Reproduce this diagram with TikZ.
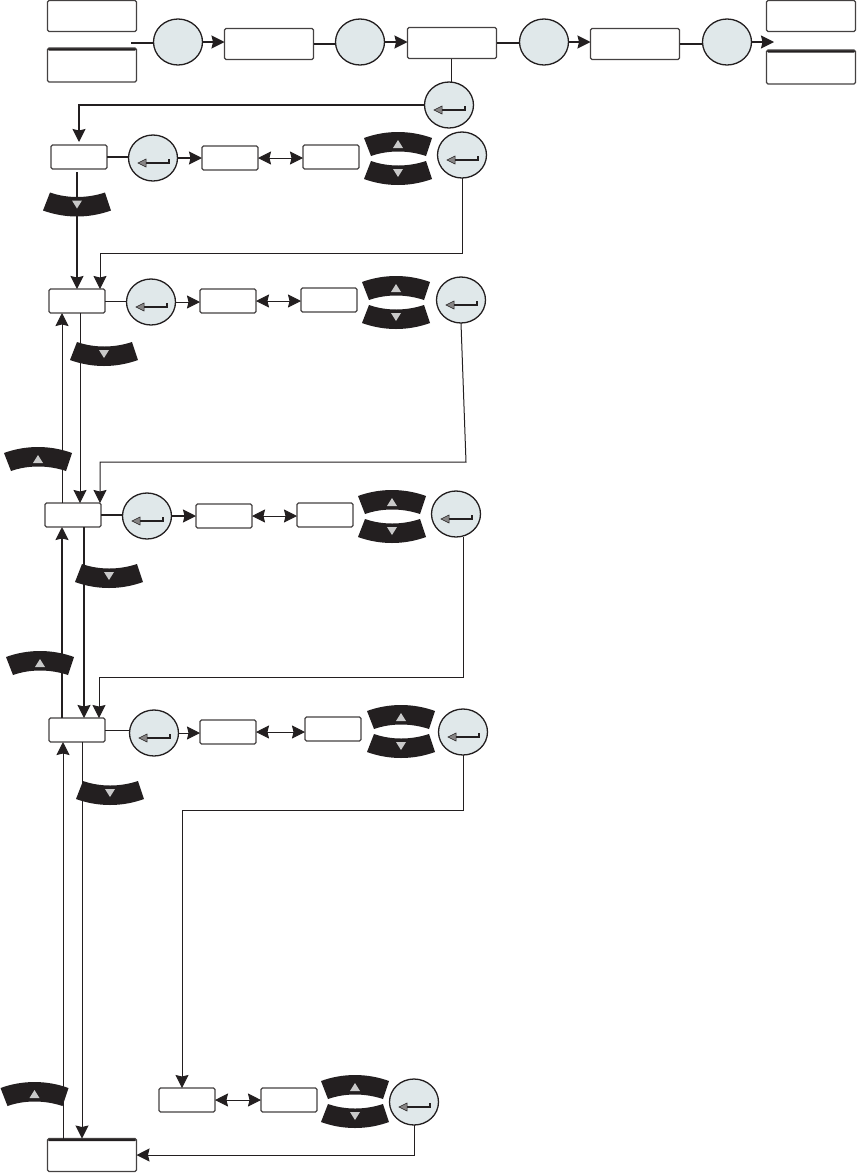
\documentclass[tikz,border=0pt]{standalone}
\usepackage{tikz}
\usetikzlibrary{arrows.meta,shapes.geometric,calc}
\definecolor{keyink}{HTML}{231F20}
\definecolor{keyfill}{HTML}{E0E8EA}
\definecolor{keymark}{HTML}{C9C9C9}
\begin{document}
\begin{tikzpicture}[
    x=1pt, y=-1pt,
    wide/.style={draw=keyink!85, fill=white, rounded corners=1.5pt, line width=1.1pt, minimum width=89pt, minimum height=31pt, inner sep=0pt, outer sep=0pt},
    small/.style={wide, minimum width=56pt, minimum height=24pt},
    topbar/.style={path picture={\fill[keyink] (path picture bounding box.north west) rectangle ([yshift=-2.5pt]path picture bounding box.north east);}},
    blank/.style={draw=keyink, fill=keyfill, ellipse, line width=1.3pt, minimum width=49pt, minimum height=46pt, inner sep=0pt, outer sep=0pt},
    enter/.style={blank, path picture={
        \draw[keyink, line width=1.1pt, shift={(path picture bounding box.center)}] (-10,5) -- (16,5) -- (16,1);
        \draw[keyink, fill=keymark!60!keyink, line width=0.5pt, shift={(path picture bounding box.center)}] (-15,5) -- (-7,1) -- (-7,9) -- cycle;}},
    arr/.style={-{Stealth[length=13pt,width=13pt,inset=1.5pt]}, line width=1pt, draw=keyink},
    arrh/.style={arr, line width=1.4pt},
    twoway/.style={{Stealth[length=13pt,width=13pt,inset=1.5pt]}-{Stealth[length=13pt,width=13pt,inset=1.5pt]}, line width=1pt, draw=keyink},
    link/.style={line width=1pt, draw=keyink},
    linkh/.style={line width=1.4pt, draw=keyink},
    upkey/.pic={
        \fill[keyink] (-34,-7) .. controls (-12,-15) and (12,-15) .. (34,-7) -- (28,11) .. controls (10,5) and (-10,5) .. (-27,11) -- cycle;
        \fill[keymark] (0,-5) -- (5,3) -- (-5,3) -- cycle;},
    downkey/.pic={
        \fill[keyink] (-34,7) .. controls (-12,15) and (12,15) .. (34,7) -- (28,-11) .. controls (10,-5) and (-10,-5) .. (-27,-11) -- cycle;
        \fill[keymark] (0,5) -- (5,-3) -- (-5,-3) -- cycle;}
]
\useasboundingbox (0,0) rectangle (859,1173);

\node[wide] (off) at (92,16) {};
\node[wide, topbar, minimum height=34pt] (on) at (92,65) {};
\node[blank] (b1) at (178,42) {};
\node[wide] (m1) at (269,44) {};
\node[blank] (b2) at (360,42) {};
\node[wide] (m2) at (452,43) {};
\node[blank] (b3) at (544,42) {};
\node[wide] (m3) at (635,44) {};
\node[blank] (b4) at (727,42) {};
\node[wide] (res1) at (811,16) {};
\node[wide, topbar, minimum height=34pt] (res2) at (811,67) {};
\coordinate (inlet) at (131,43);
\coordinate (outlet) at (774,42);
\node[enter] (go) at (449,105) {};

\node[small] (a1) at (79,157) {};
\node[enter] (a2) at (153,158) {};
\node[small] (a3) at (230,158) {};
\node[small] (a4) at (331,157) {};
\node[enter] (a5) at (462,155) {};

\node[small] (c1) at (77,301) {};
\node[enter] (c2) at (151,302) {};
\node[small] (c3) at (228,301) {};
\node[small] (c4) at (329,300) {};
\node[enter] (c5) at (461,300) {};

\node[small] (d1) at (73,515) {};
\node[enter] (d2) at (147,516) {};
\node[small] (d3) at (224,516) {};
\node[small] (d4) at (325,515) {};
\node[enter] (d5) at (456,514) {};

\node[small] (f1) at (77,730) {};
\node[enter] (f2) at (154,733) {};
\node[small] (f3) at (228,732) {};
\node[small] (f4) at (333,729) {};
\node[enter] (f5) at (463,732) {};

\node[small] (g1) at (187,1100) {};
\node[small] (g2) at (289,1100) {};
\node[enter] (g3) at (414,1102) {};
\node[wide, topbar, minimum height=33pt] (last) at (92,1155) {};

\draw[linkh] (inlet) -- (b1.west |- inlet);
\draw[arrh] (b1.east) -- (b1.east -| m1.west);
\draw[linkh] (m1.east) -- (m1.east -| b2.west);
\draw[arrh] (b2.east) -- (b2.east -| m2.west);
\draw[linkh] (m2.east) -- (m2.east -| b3.west);
\draw[arrh] (b3.east) -- (b3.east -| m3.west);
\draw[linkh] (m3.east) -- (m3.east -| b4.west);
\draw[arrh] (b4.east) -- (outlet);
\draw[link] (m2.south -| 451,0) -- (go.north -| 451,0);
\draw[arrh] (go.west) -| ([yshift=3pt]a1.north);

\draw[linkh] (a1.east) -- (a1.east -| a2.west);
\draw[arrh] (a2.east) -- (a2.east -| a3.west);
\draw[twoway] (a3.east) -- (a3.east -| a4.west);
\draw[linkh, -{Stealth[length=13pt,width=13pt,inset=1.5pt]}] ([xshift=-2pt,yshift=-3pt]a1.south) -- (c1.north -| 77,0);
\draw[arr] (a5.south) |- (100,253) -- (c1.north -| 100,0);

\draw[link] (c1.east) -- (c1.east -| c2.west);
\draw[arr] (c2.east) -- (c2.east -| c3.west);
\draw[twoway] (c3.east) -- (c3.east -| c4.west);
\draw[arr] (c1.south -| 80,0) -- (d1.north -| 80,0);
\draw[arr] (d1.north -| 62,0) -- (c1.south -| 62,0);
\draw[arr] (c5.south) -- (466,462) -- (100,462) -- (d1.north -| 100,0);

\draw[linkh] (d1.east) -- (d1.east -| d2.west);
\draw[arrh] (d2.east) -- (d2.east -| d3.west);
\draw[twoway] (d3.east) -- (d3.east -| d4.west);
\draw[arrh] (d1.south -| 84,0) -- (f1.north -| 84,0);
\draw[arrh] (f1.north -| 62,0) -- (d1.south -| 62,0);
\draw[arr] (d5.south -| 463,0) |- (99,677) -- (f1.north -| 99,0);

\draw[link] (f1.east) -- (f1.east -| f2.west);
\draw[arr] (f2.east) -- (f2.east -| f3.west);
\draw[twoway] (f3.east) -- (f3.east -| f4.west);
\draw[arr] (f1.south -| 82,0) -- (last.north -| 82,0);
\draw[arr] (last.north -| 63,0) -- (f1.south -| 63,0);
\draw[arr] (f5.south) |- (182,810) -- (g1.north -| 182,0);

\draw[twoway] (g1.east) -- (g1.east -| g2.west);
\draw[arr] (g3.south) |- (last.east);

\pic at (398,145) {upkey};
\pic at (398,172) {downkey};
\pic at (396,289) {upkey};
\pic at (396,316) {downkey};
\pic at (392,503) {upkey};
\pic at (392,530) {downkey};
\pic at (401,718) {upkey};
\pic at (401,745) {downkey};
\pic at (355,1088) {upkey};
\pic at (355,1115) {downkey};

\pic at (77,203.5) {downkey};
\pic at (104,353) {downkey};
\pic at (109,575) {downkey};
\pic at (110,792) {downkey};
\pic at (38,460) {upkey};
\pic at (40,664) {upkey};
\pic at (34.5,1095) {upkey};
\end{tikzpicture}
\end{document}
